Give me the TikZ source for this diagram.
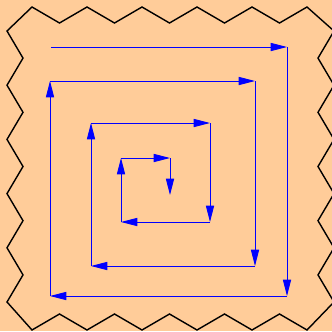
\documentclass[tikz,border=0pt]{standalone}
\usetikzlibrary{arrows.meta}
\definecolor{peach}{HTML}{FFCC99}

\begin{document}
\begin{tikzpicture}[x=0.03cm,y=-0.03cm,
        frame/.style={draw=black,line width=1.2pt,line join=miter},
        seg/.style={draw=blue,line width=0.8pt,-{Triangle[length=14pt,width=7pt]}}]
        \fill[peach] (0,0) rectangle (332,331);
        \useasboundingbox (0,0) rectangle (332,331);

        % zigzag border
        \draw[frame] (7,31)
            \foreach \k in {0,...,10} { -- ({32+27.5*\k},{7+16*mod(\k,2)}) }
            \foreach \k in {0,...,10} { -- ({334-16*mod(\k,2)},{31+27.1*\k}) }
            \foreach \k in {0,...,10} { -- ({307-27.5*\k},{330-16*mod(\k,2)}) }
            \foreach \k in {0,...,9} { -- ({7+16*mod(\k,2)},{302-27.1*\k}) }
            -- cycle;

        % spiral corners
        \foreach \n/\x/\y in {0/51/47,1/287/47,2/287/296,3/50/296,4/50/81,
            5/255/81,6/255/266,7/91/266,8/91/123,9/210/123,10/210/222,
            11/121/222,12/121/158,13/170/158,14/170/195}
            \coordinate (p\n) at (\x,\y);

        \foreach \a [count=\b] in {0,...,13}
            \draw[seg] (p\a) -- (p\b);
    \end{tikzpicture}
\end{document}
